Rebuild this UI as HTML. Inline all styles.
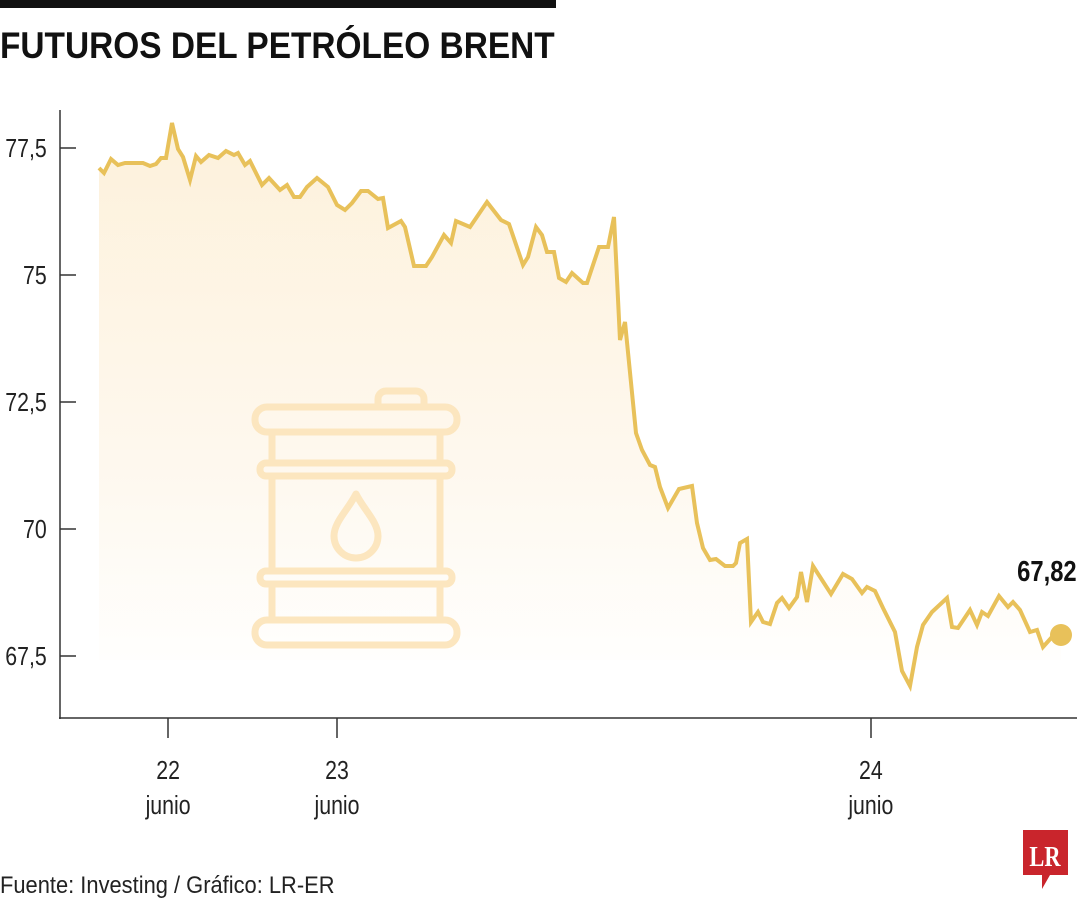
<!DOCTYPE html>
<html><head><meta charset="utf-8"><style>
html,body{margin:0;padding:0;background:#fff;}
body{width:1080px;height:900px;overflow:hidden;position:relative;font-family:"Liberation Sans",sans-serif;}
</style></head><body>
<svg width="1080" height="900" xmlns="http://www.w3.org/2000/svg" style="position:absolute;left:0;top:0">
<defs>
<linearGradient id="g" x1="0" y1="0" x2="0" y2="1">
<stop offset="0" stop-color="#fdf1db"/>
<stop offset="0.6" stop-color="#fef8ee"/>
<stop offset="1" stop-color="#ffffff"/>
</linearGradient>
</defs>
<rect x="0" y="0" width="556" height="8" fill="#111"/>
<text x="0" y="58" font-size="37" font-weight="bold" fill="#111" transform="scale(0.86,1)" textLength="645" lengthAdjust="spacingAndGlyphs">FUTUROS DEL PETRÓLEO BRENT</text>

<polygon fill="url(#g)" points="99,168 104,173 111,159 118,165 125,163 143,163 150,166 156,164 161,158 166,158 172,123 178,149 183,157 190,180 196,156 201,162 209,155 218,158 226,151 234,155 238,153 245,165 250,161 262,185 269,178 280,190 287,185 294,197 300,197 307,187 317,178 328,187 337,205 345,210 352,203 361,191 368,191 378,199 383,198 388,228 401,221 405,227 414,266 426,266 432,257 444,235 451,243 456,221 470,227 487,202 501,220 509,224 523,265 528,257 536,227 542,235 547,252 554,252 559,278 566,282 572,273 583,283 587,283 599,247 608,247 614,217 620,340 625,322 636,433 642,450 650,465 655,467 660,487 668,508 679,489 692,486 697,523 703,548 710,560 716,559 725,566 733,566 736,563 740,543 747,539 751,622 758,612 763,622 770,624 777,603 782,598 789,608 797,597 801,572 807,602 813,566 831,594 843,574 852,579 862,593 867,587 875,591 883,608 895,632 902,671 910,686 917,647 923,625 932,612 947,598 952,627 958,628 970,610 977,625 982,612 988,616 999,596 1008,607 1013,602 1020,610 1030,632 1037,630 1043,647 1052,637 1061,635 1061,660 99,660"/>

<g fill="none" stroke="#fce6bf" stroke-width="7" stroke-linejoin="round">
<rect x="255" y="407" width="202" height="25" rx="12"/>
<rect x="255" y="620" width="202" height="25" rx="12"/>
<rect x="260" y="463" width="192" height="13" rx="6"/>
<rect x="260" y="571" width="192" height="13" rx="6"/>
<line x1="272" y1="432" x2="272" y2="463"/><line x1="440" y1="432" x2="440" y2="463"/>
<line x1="272" y1="476" x2="272" y2="571"/><line x1="440" y1="476" x2="440" y2="571"/>
<line x1="272" y1="584" x2="272" y2="620"/><line x1="440" y1="584" x2="440" y2="620"/>
<path d="M378,407 v-8 a8,8 0 0 1 8,-8 h30 a8,8 0 0 1 8,8 v8"/>
<path d="M356,494 C348,510 334,522 334,536 a22,22 0 0 0 44,0 C378,522 364,510 356,494 Z"/>
</g>

<g stroke="#333" stroke-width="1.5" fill="none">
<line x1="60" y1="110" x2="60" y2="719"/>
<line x1="59" y1="718" x2="1077" y2="718"/>
<line x1="60" y1="148" x2="76" y2="148"/>
<line x1="60" y1="275" x2="76" y2="275"/>
<line x1="60" y1="402" x2="76" y2="402"/>
<line x1="60" y1="529" x2="76" y2="529"/>
<line x1="60" y1="656" x2="76" y2="656"/>
<line x1="168" y1="718" x2="168" y2="738"/>
<line x1="337" y1="718" x2="337" y2="738"/>
<line x1="871" y1="718" x2="871" y2="738"/>
</g>

<polyline fill="none" stroke="#e8c15a" stroke-width="4" stroke-linejoin="miter" points="99,168 104,173 111,159 118,165 125,163 143,163 150,166 156,164 161,158 166,158 172,123 178,149 183,157 190,180 196,156 201,162 209,155 218,158 226,151 234,155 238,153 245,165 250,161 262,185 269,178 280,190 287,185 294,197 300,197 307,187 317,178 328,187 337,205 345,210 352,203 361,191 368,191 378,199 383,198 388,228 401,221 405,227 414,266 426,266 432,257 444,235 451,243 456,221 470,227 487,202 501,220 509,224 523,265 528,257 536,227 542,235 547,252 554,252 559,278 566,282 572,273 583,283 587,283 599,247 608,247 614,217 620,340 625,322 636,433 642,450 650,465 655,467 660,487 668,508 679,489 692,486 697,523 703,548 710,560 716,559 725,566 733,566 736,563 740,543 747,539 751,622 758,612 763,622 770,624 777,603 782,598 789,608 797,597 801,572 807,602 813,566 831,594 843,574 852,579 862,593 867,587 875,591 883,608 895,632 902,671 910,686 917,647 923,625 932,612 947,598 952,627 958,628 970,610 977,625 982,612 988,616 999,596 1008,607 1013,602 1020,610 1030,632 1037,630 1043,647 1052,637 1061,635"/>
<circle cx="1061" cy="635" r="11" fill="#e8c15a"/>

<g font-size="26" fill="#222" transform="scale(0.82,1)">
<text x="57" y="148" text-anchor="end" transform="translate(0,9)">77,5</text>
<text x="57" y="275" text-anchor="end" transform="translate(0,9)">75</text>
<text x="57" y="402" text-anchor="end" transform="translate(0,9)">72,5</text>
<text x="57" y="529" text-anchor="end" transform="translate(0,9)">70</text>
<text x="57" y="656" text-anchor="end" transform="translate(0,9)">67,5</text>
<text x="205" y="779" text-anchor="middle">22</text>
<text x="205" y="814" text-anchor="middle">junio</text>
<text x="411" y="779" text-anchor="middle">23</text>
<text x="411" y="814" text-anchor="middle">junio</text>
<text x="1062" y="779" text-anchor="middle">24</text>
<text x="1062" y="814" text-anchor="middle">junio</text>
<text x="0" y="893" font-size="24" textLength="408" lengthAdjust="spacingAndGlyphs">Fuente: Investing / Gráfico: LR-ER</text>
<text x="1313" y="581" text-anchor="end" font-weight="bold" font-size="29" fill="#111">67,82</text>
</g>

<path d="M1023,830 h45 v45 h-18 l-8,14 v-14 h-19 z" fill="#c9252c"/>
<text x="1045" y="866" text-anchor="middle" font-family="Liberation Serif,serif" font-weight="bold" font-size="28" fill="#fff" transform="translate(1045,0) scale(0.8,1) translate(-1045,0)">LR</text>
</svg>
</body></html>
